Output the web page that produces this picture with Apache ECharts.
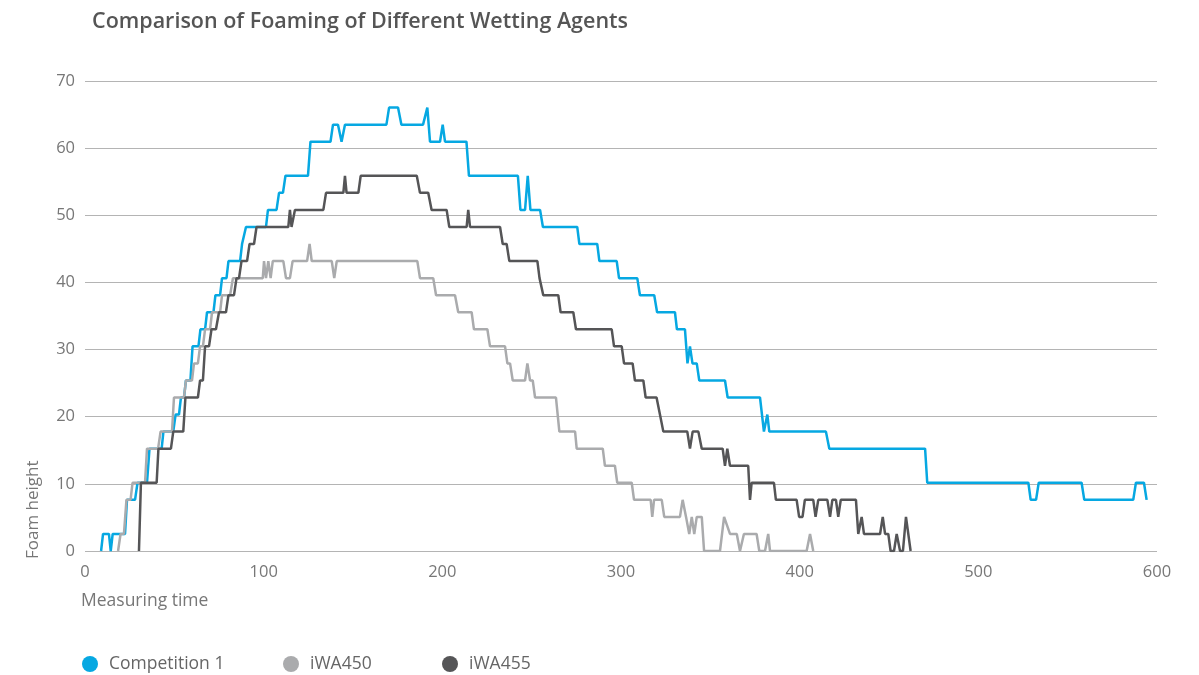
<!DOCTYPE html>
<html>
<head>
<meta charset="utf-8">
<title>Comparison of Foaming of Different Wetting Agents</title>
<script src="https://cdn.jsdelivr.net/npm/echarts@6/dist/echarts.min.js"></script>
<style>
  html, body { margin: 0; padding: 0; background: #fff; }
  #chart { width: 1199px; height: 675px; }
</style>
</head>
<body>
<div id="chart"></div>
<script>
// measuring time (x) and foam height (y), one list per agent
var compTime = [9.0, 10.1, 13.4, 14.4, 15.5, 22.4, 23.5, 28.0, 29.4, 34.7,
  36.1, 42.9, 43.9, 49.4, 50.7, 52.6, 53.7, 55.4, 56.5, 59.0,
  60.2, 63.5, 64.6, 67.2, 68.3, 71.9, 73.0, 75.6, 76.7, 79.2,
  80.3, 86.8, 87.9, 89.0, 90.1, 101.3, 102.4, 107.2, 108.6, 110.8,
  112.2, 124.8, 126.2, 137.4, 138.8, 141.6, 143.6, 145.5, 168.7, 170.2,
  175.2, 177.1, 189.2, 191.6, 193.1, 198.7, 200.2, 201.5, 213.5, 214.9,
  242.3, 243.7, 246.3, 247.8, 249.3, 254.7, 256.3, 275.5, 276.7, 286.7,
  287.9, 297.6, 298.9, 309.1, 310.6, 318.6, 320.2, 330.2, 331.3, 335.8,
  337.2, 338.6, 340.0, 342.4, 343.8, 358.2, 359.7, 377.8, 380.0, 381.9,
  383.0, 414.7, 416.6, 470.2, 471.4, 528.0, 529.3, 532.3, 533.8, 557.8,
  559.3, 586.7, 588.2, 592.7, 594.2];
var compHeight = [0, 2.54, 2.54, 0, 2.54, 2.54, 7.62, 7.62, 10.16, 10.16,
  15.24, 15.24, 17.78, 17.78, 20.32, 20.32, 22.86, 22.86, 25.4, 25.4,
  30.48, 30.48, 33.02, 33.02, 35.56, 35.56, 38.1, 38.1, 40.64, 40.64,
  43.18, 43.18, 45.72, 45.72, 48.26, 48.26, 50.8, 50.8, 53.34, 53.34,
  55.88, 55.88, 60.96, 60.96, 63.5, 63.5, 60.96, 63.5, 63.5, 66.04,
  66.04, 63.5, 63.5, 66.04, 60.96, 60.96, 63.5, 60.96, 60.96, 55.88,
  55.88, 50.8, 50.8, 55.88, 50.8, 50.8, 48.26, 48.26, 45.72, 45.72,
  43.18, 43.18, 40.64, 40.64, 38.1, 38.1, 35.56, 35.56, 33.02, 33.02,
  27.94, 30.48, 27.94, 27.94, 25.4, 25.4, 22.86, 22.86, 17.78, 20.32,
  17.78, 17.78, 15.24, 15.24, 10.16, 10.16, 7.62, 7.62, 10.16, 10.16,
  7.62, 7.62, 10.16, 10.16, 7.62];

var iwa450Time = [18.5, 19.9, 21.8, 23.2, 25.5, 26.6, 33.6, 34.7, 40.9, 42.3,
  48.7, 49.8, 55.4, 56.5, 59.9, 61.0, 63.2, 64.4, 66.0, 67.2,
  70.0, 71.1, 75.6, 76.7, 81.2, 82.8, 99.5, 100.2, 101.3, 102.6,
  103.9, 105.1, 111.0, 112.5, 114.7, 116.2, 124.3, 125.7, 126.9, 138.1,
  139.5, 140.9, 186.0, 187.5, 194.9, 196.5, 207.1, 208.9, 216.4, 217.7,
  225.2, 226.7, 235.1, 236.4, 237.9, 239.4, 246.3, 247.6, 249.1, 250.6,
  251.9, 263.6, 265.5, 274.3, 275.2, 289.8, 291.0, 296.6, 297.9, 306.0,
  307.3, 316.6, 317.5, 318.5, 322.8, 324.2, 333.0, 334.5, 336.4, 338.2,
  339.6, 341.0, 342.4, 345.2, 346.5, 355.4, 357.7, 361.0, 364.8, 366.6,
  368.8, 375.9, 377.4, 380.6, 382.4, 383.4, 403.9, 405.8, 407.6];
var iwa450Height = [0, 2.54, 2.54, 7.62, 7.62, 10.16, 10.16, 15.24, 15.24, 17.78,
  17.78, 22.86, 22.86, 25.4, 25.4, 27.94, 27.94, 30.48, 30.48, 33.02,
  33.02, 35.56, 35.56, 38.1, 38.1, 40.64, 40.64, 43.18, 40.64, 43.18,
  40.64, 43.18, 43.18, 40.64, 40.64, 43.18, 43.18, 45.72, 43.18, 43.18,
  40.64, 43.18, 43.18, 40.64, 40.64, 38.1, 38.1, 35.56, 35.56, 33.02,
  33.02, 30.48, 30.48, 27.94, 27.94, 25.4, 25.4, 27.94, 25.4, 25.4,
  22.86, 22.86, 17.78, 17.78, 15.24, 15.24, 12.7, 12.7, 10.16, 10.16,
  7.62, 7.62, 5.08, 7.62, 7.62, 5.08, 5.08, 7.62, 5.08, 2.54,
  5.08, 2.54, 5.08, 5.08, 0, 0, 5.08, 2.54, 2.54, 0,
  2.54, 2.54, 0, 0, 2.54, 0, 0, 2.54, 0];

var iwa455Time = [30.2, 31.3, 40.1, 41.1, 48.1, 49.4, 55.0, 56.2, 63.2, 64.4,
  66.0, 67.2, 69.4, 70.8, 73.3, 75.0, 78.9, 80.3, 83.4, 84.8,
  86.2, 87.6, 90.7, 92.1, 94.6, 96.0, 113.8, 114.7, 115.6, 117.5,
  133.4, 134.9, 144.6, 145.5, 146.4, 153.0, 154.3, 185.7, 187.5, 192.1,
  194.0, 202.4, 203.9, 213.6, 214.5, 215.5, 232.3, 233.8, 236.0, 237.5,
  253.2, 254.4, 255.2, 256.5, 264.9, 266.2, 273.3, 274.8, 294.8, 296.1,
  300.4, 301.7, 306.5, 307.8, 312.5, 313.8, 319.9, 321.8, 323.7, 337.1,
  338.6, 340.1, 343.3, 345.2, 356.9, 358.2, 359.5, 361.0, 371.2, 372.2,
  373.1, 385.6, 386.7, 398.3, 399.7, 401.6, 402.9, 407.6, 408.9, 410.4,
  415.5, 417.0, 418.3, 420.3, 421.6, 423.0, 431.5, 432.8, 434.7, 436.0,
  445.0, 446.5, 447.8, 449.6, 450.9, 452.8, 454.3, 456.2, 457.8, 459.5,
  462.1];
var iwa455Height = [0, 10.16, 10.16, 15.24, 15.24, 17.78, 17.78, 22.86, 22.86, 25.4,
  25.4, 30.48, 30.48, 33.02, 33.02, 35.56, 35.56, 38.1, 38.1, 40.64,
  40.64, 43.18, 43.18, 45.72, 45.72, 48.26, 48.26, 50.8, 48.26, 50.8,
  50.8, 53.34, 53.34, 55.88, 53.34, 53.34, 55.88, 55.88, 53.34, 53.34,
  50.8, 50.8, 48.26, 48.26, 50.8, 48.26, 48.26, 45.72, 45.72, 43.18,
  43.18, 40.64, 40.64, 38.1, 38.1, 35.56, 35.56, 33.02, 33.02, 30.48,
  30.48, 27.94, 27.94, 25.4, 25.4, 22.86, 22.86, 20.32, 17.78, 17.78,
  15.24, 17.78, 17.78, 15.24, 15.24, 12.7, 15.24, 12.7, 12.7, 7.62,
  10.16, 10.16, 7.62, 7.62, 5.08, 5.08, 7.62, 7.62, 5.08, 7.62,
  7.62, 5.08, 7.62, 7.62, 5.08, 7.62, 7.62, 2.54, 5.08, 2.54,
  2.54, 5.08, 2.54, 2.54, 0, 0, 2.54, 0, 0, 5.08,
  0];

var agentNames = ['Competition 1', 'iWA450', 'iWA455'];
var agentColors = ['#06a8e2', '#aaabad', '#555557'];
var xTicks = [0, 100, 200, 300, 400, 500, 600];
var yTicks = [0, 10, 20, 30, 40, 50, 60, 70];

function pairs(xs, ys) {
  var out = [];
  for (var i = 0; i < xs.length; i++) {
    out.push([xs[i], ys[i]]);
  }
  return out;
}

var font = '"Open Sans", "DejaVu Sans", sans-serif';
var chart = echarts.init(document.getElementById('chart'));

var option = {
  animation: false,
  backgroundColor: '#fff',
  textStyle: { fontFamily: font },
  title: {
    text: 'Comparison of Foaming of Different Wetting Agents',
    left: 87,
    top: 6,
    textStyle: { fontSize: 21.5, fontWeight: 600, color: '#555', fontFamily: font }
  },
  grid: { left: 85, right: 42, top: 81, bottom: 124 },
  xAxis: {
    type: 'value',
    min: xTicks[0],
    max: xTicks[xTicks.length - 1],
    interval: xTicks[1] - xTicks[0],
    axisLine: { show: false },
    axisTick: { show: false },
    splitLine: { show: false },
    axisLabel: { color: '#777', fontSize: 16.5, margin: 13, fontFamily: font }
  },
  yAxis: {
    type: 'value',
    min: yTicks[0],
    max: yTicks[yTicks.length - 1],
    interval: yTicks[1] - yTicks[0],
    axisLine: { show: false },
    axisTick: { show: false },
    splitLine: { lineStyle: { color: '#b4b4b4', width: 1 } },
    axisLabel: { color: '#777', fontSize: 16.5, margin: 10, fontFamily: font }
  },
  legend: [
    { data: [agentNames[0]], left: 77, top: 650 },
    { data: [agentNames[1]], left: 278, top: 650 },
    { data: [agentNames[2]], left: 437, top: 650 }
  ].map(function (l) {
    l.icon = 'circle';
    l.itemWidth = 16;
    l.itemHeight = 16;
    l.itemGap = 6;
    l.textStyle = { color: '#666', fontSize: 17.5, fontFamily: font, padding: [0, 0, 0, 6] };
    return l;
  }),
  graphic: [
    {
      type: 'text', left: 81, top: 592,
      style: { text: 'Measuring time', fill: '#777', font: '17.5px ' + font }
    },
    {
      type: 'text', x: 33, y: 559, rotation: Math.PI / 2,
      style: { text: 'Foam height', fill: '#777', font: '17px ' + font,
        textAlign: 'left', textVerticalAlign: 'middle' }
    }
  ],
  series: [
    { name: agentNames[0], data: pairs(compTime, compHeight) },
    { name: agentNames[1], data: pairs(iwa450Time, iwa450Height) },
    { name: agentNames[2], data: pairs(iwa455Time, iwa455Height) }
  ].map(function (s, i) {
    s.type = 'line';
    s.showSymbol = false;
    s.symbol = 'none';
    s.color = agentColors[i];
    s.lineStyle = { width: 2.5, color: agentColors[i] };
    return s;
  })
};

chart.setOption(option);
</script>
</body>
</html>
